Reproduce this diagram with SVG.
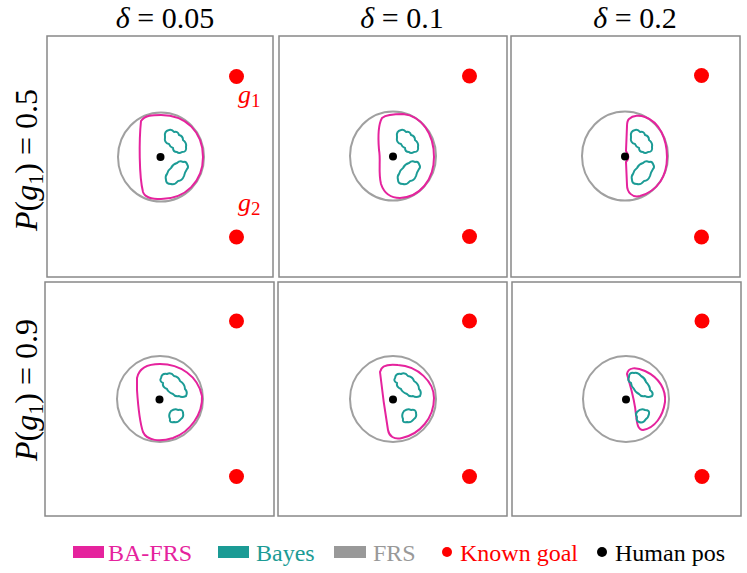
<svg xmlns="http://www.w3.org/2000/svg" xmlns:xlink="http://www.w3.org/1999/xlink" width="747" height="573" viewBox="0 0 747 573">
<style>
.panel{fill:#fff;stroke:#888;stroke-width:1.5}
.frs{fill:none;stroke:#a0a0a0;stroke-width:2}
.ba{fill:none;stroke:#e5239d;stroke-width:2}
.bayes{fill:none;stroke:#1b9b95;stroke-width:2;stroke-linejoin:round}
.goal{fill:#ff0000}
.human{fill:#000}
.math{font-family:"Liberation Serif","DejaVu Serif",serif;fill:#000}
.leg{font-family:"Liberation Serif","DejaVu Serif",serif;font-size:24px}
</style>
<defs>
<path id="blobU" d="M4,-20 Q3,-26 8,-27 Q11,-28 13,-25 Q17,-26 18,-22 Q22,-21 22,-17 Q26,-14 25,-10 Q26,-5 21,-5 Q18,-3 16,-5 Q12,-5 12,-9 Q9,-10 8,-13 Q3,-14 4,-20 Z"/>
<path id="blobL" d="M22,5 Q25,4 26,7 Q28,10 26,12 Q24,15 23,19 Q21,24 17,24 Q14,28 10,27 Q5,27 5,23 Q4,19 6,17 Q7,13 10,11 Q12,7 16,6 Q19,3 22,5 Z"/>
<path id="blobU2" d="M161,378 Q162,373 167,374 Q171,372 174,376 Q179,377 180,381 Q185,384 185,389 Q188,392 186,396 Q182,398 179,396 Q175,397 173,394 Q168,392 167,389 Q162,387 163,383 Q159,381 161,378 Z"/>
<path id="blobL2" d="M171,411 Q175,408 178,410 Q183,409 183,413 Q184,417 181,419 Q178,423 174,422 Q169,423 170,419 Q168,415 171,411 Z"/>
</defs>

<g id="col-labels" class="math" font-size="30" text-anchor="middle">
<text x="165" y="28"><tspan font-style="italic">δ</tspan> = 0.05</text>
<text x="402" y="28"><tspan font-style="italic">δ</tspan> = 0.1</text>
<text x="635" y="28"><tspan font-style="italic">δ</tspan> = 0.2</text>
</g>
<g id="row-labels" class="math" font-size="32" text-anchor="middle">
<text transform="translate(37,160) rotate(-90)"><tspan font-style="italic">P</tspan>(<tspan font-style="italic">g</tspan><tspan font-size="22" dy="6">1</tspan><tspan dy="-6">) = 0.5</tspan></text>
<text transform="translate(37,390) rotate(-90)"><tspan font-style="italic">P</tspan>(<tspan font-style="italic">g</tspan><tspan font-size="22" dy="6">1</tspan><tspan dy="-6">) = 0.9</tspan></text>
</g>

<g id="panel-1">
<rect class="panel" x="47" y="36" width="226" height="241"/>
<ellipse class="frs" cx="161" cy="157" rx="43" ry="44.5"/>
<path class="ba" d="M141,121 C145,115 153,115 161,115 C186,115 203,132 203,157 C203,182 185,199 161,199 C152,199 145,198 143,192 C139,176 139,140 141,121 Z"/>
<use class="bayes" xlink:href="#blobU" transform="translate(161,157)"/>
<use class="bayes" xlink:href="#blobL" transform="translate(161,157)"/>
<circle class="human" cx="160.5" cy="157" r="4"/>
<circle class="goal" cx="236.5" cy="76.5" r="7.5"/>
<circle class="goal" cx="236.5" cy="237" r="7.5"/>
<text class="math" x="238" y="103" font-size="26" style="fill:#ff0000"><tspan font-style="italic">g</tspan><tspan font-size="19" dy="4">1</tspan></text>
<text class="math" x="238" y="211" font-size="26" style="fill:#ff0000"><tspan font-style="italic">g</tspan><tspan font-size="19" dy="4">2</tspan></text>
</g>

<g id="panel-2">
<rect class="panel" x="279" y="36" width="228" height="241"/>
<ellipse class="frs" cx="393" cy="156" rx="43" ry="44.5"/>
<path class="ba" d="M382,118 C387,114 396,114 403,114 C422,116 434,134 434,157 C434,180 420,197 400,198 C390,198 384,193 381,184 C378,172 381,160 379,150 C378,138 378,125 382,118 Z"/>
<use class="bayes" xlink:href="#blobU" transform="translate(393,157)"/>
<use class="bayes" xlink:href="#blobL" transform="translate(393,157)"/>
<circle class="human" cx="393" cy="156.5" r="4"/>
<circle class="goal" cx="469.5" cy="76" r="7.5"/>
<circle class="goal" cx="469.5" cy="236.5" r="7.5"/>
</g>

<g id="panel-3">
<rect class="panel" x="511" y="36" width="229" height="241"/>
<ellipse class="frs" cx="625" cy="156" rx="43" ry="44.5"/>
<path class="ba" d="M629,119 C633,115 640,115 645,117 C660,122 667,140 667,157 C667,176 658,191 640,196 C632,198 627,192 627,185 L626,162 C629,159 629,155 626,151 L627,126 C627,122 628,120 629,119 Z"/>
<use class="bayes" xlink:href="#blobU" transform="translate(627,157)"/>
<use class="bayes" xlink:href="#blobL" transform="translate(627,157)"/>
<circle class="human" cx="625" cy="156.5" r="4"/>
<circle class="goal" cx="701.5" cy="75.5" r="7.5"/>
<circle class="goal" cx="701.5" cy="237" r="7.5"/>
</g>

<g id="panel-4">
<rect class="panel" x="45" y="282" width="229" height="234"/>
<circle class="frs" cx="160" cy="399" r="43"/>
<path class="ba" d="M137,378 C139,368 148,364 160,364 C180,364 198,376 202,396 C203,414 190,432 173,438 C160,442 147,441 143,432 C139,420 138,405 137,390 Z"/>
<use class="bayes" xlink:href="#blobU2"/>
<use class="bayes" xlink:href="#blobL2"/>
<circle class="human" cx="159.5" cy="399.5" r="4"/>
<circle class="goal" cx="236.5" cy="321" r="7.5"/>
<circle class="goal" cx="236.5" cy="476.5" r="7.5"/>
</g>

<g id="panel-5">
<rect class="panel" x="278" y="282" width="229" height="234"/>
<circle class="frs" cx="393" cy="399" r="43"/>
<path class="ba" d="M380,372 C381,365 389,364 398,365 C418,366 434,382 434,398 C434,418 420,434 402,438 C394,440 389,436 388,430 C385,412 382,390 380,372 Z"/>
<use class="bayes" xlink:href="#blobU2" transform="translate(234,0)"/>
<use class="bayes" xlink:href="#blobL2" transform="translate(233,0)"/>
<circle class="human" cx="393" cy="399.5" r="4"/>
<circle class="goal" cx="469.5" cy="321" r="7.5"/>
<circle class="goal" cx="469.5" cy="476.5" r="7.5"/>
</g>

<g id="panel-6">
<rect class="panel" x="512" y="282" width="229" height="234"/>
<circle class="frs" cx="626" cy="399" r="43"/>
<path class="ba" d="M627,374 C628,367 636,367 645,371 C660,378 666,390 665,402 C663,416 655,428 643,430 C638,430 637,424 636,415 C635,400 630,385 627,374 Z"/>
<path class="bayes" d="M629,377 Q629,372 634,373 Q638,372 641,376 Q645,378 646,382 Q650,386 650,390 Q654,393 652,396 Q648,398 645,396 Q641,397 639,394 Q635,392 634,389 Q631,386 631,383 Q627,381 629,377 Z"/>
<path class="bayes" d="M637,412 Q641,408 645,410 Q650,410 649,414 Q648,418 646,419 Q643,424 639,422 Q636,421 637,417 Q635,414 637,412 Z"/>
<circle class="human" cx="626" cy="399.5" r="4"/>
<circle class="goal" cx="702" cy="321" r="7.5"/>
<circle class="goal" cx="702" cy="476.5" r="7.5"/>
</g>

<g id="legend" class="leg">
<rect x="73" y="546" width="31" height="12" fill="#e5239d"/>
<text x="108" y="561" fill="#e5239d">BA-FRS</text>
<rect x="218" y="546" width="31" height="12" fill="#1b9b95"/>
<text x="256" y="561" fill="#1b9b95">Bayes</text>
<rect x="334" y="546" width="32" height="12" fill="#999"/>
<text x="373" y="561" fill="#999">FRS</text>
<circle cx="447" cy="552" r="5" fill="#ff0000"/>
<text x="460" y="561" fill="#ff0000">Known goal</text>
<circle cx="602" cy="552" r="5" fill="#000"/>
<text x="615" y="561" fill="#000">Human pos</text>
</g>
</svg>
